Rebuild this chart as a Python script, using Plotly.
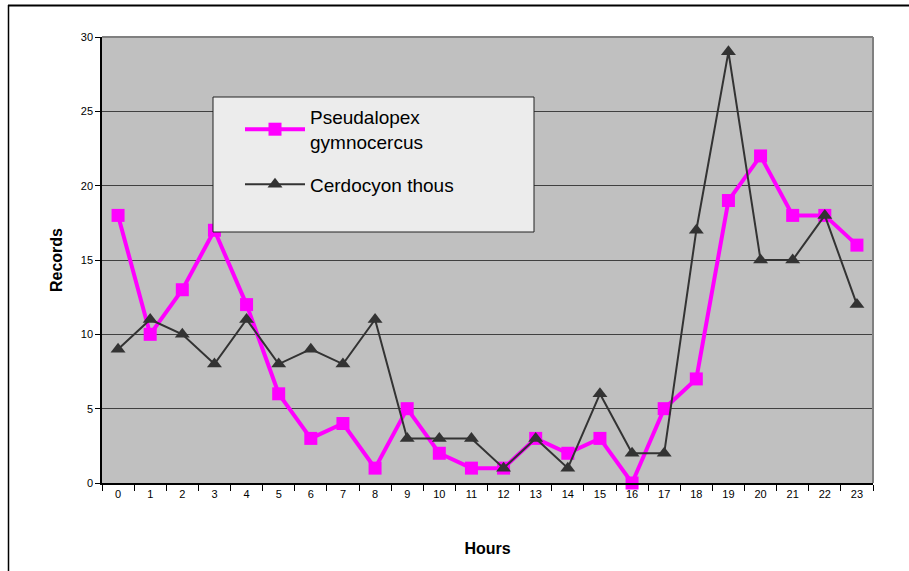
import plotly.graph_objects as go

hours = [str(h) for h in range(24)]
pseudalopex = [18, 10, 13, 17, 12, 6, 3, 4, 1, 5, 2, 1, 1, 3, 2, 3, 0, 5, 7, 19, 22, 18, 18, 16]
cerdocyon = [9, 11, 10, 8, 11, 8, 9, 8, 11, 3, 3, 3, 1, 3, 1, 6, 2, 2, 17, 29, 15, 15, 18, 12]
y_ticks = [0, 5, 10, 15, 20, 25, 30]

W, H = 909, 571
L, R, T, B = 102, 36, 37, 88
pw, ph = W - L - R, H - T - B

def px(x):
    return (x - L) / pw

def py(y):
    return (H - B - y) / ph

fig = go.Figure()
fig.add_trace(go.Scatter(
    x=hours, y=pseudalopex, name="Pseudalopex<br>gymnocercus", mode="lines+markers",
    legendgroup="a",
    line=dict(color="#ff00ff", width=4),
    marker=dict(symbol="square", size=13, color="#ff00ff"),
    cliponaxis=False,
))
fig.add_trace(go.Scatter(
    x=hours, y=cerdocyon, name="Cerdocyon thous", mode="lines+markers",
    legendgroup="b",
    line=dict(color="#333333", width=2),
    marker=dict(symbol="triangle-up", size=13, color="#333333"),
    cliponaxis=False,
))

shapes = [
    # outer frame: top and left edges
    dict(type="line", xref="paper", yref="paper", x0=px(8), x1=px(W), y0=py(5.5), y1=py(5.5),
         line=dict(color="black", width=2), layer="above"),
    dict(type="line", xref="paper", yref="paper", x0=px(8.5), x1=px(8.5), y0=py(5), y1=py(H),
         line=dict(color="black", width=1.5), layer="above"),
    # legend box
    dict(type="rect", xref="paper", yref="paper", x0=px(213), x1=px(534), y0=py(232), y1=py(97),
         line=dict(color="#222222", width=1), fillcolor="#ececec", layer="above"),
    # top & right plot border (gray)
    dict(type="line", xref="paper", yref="paper", x0=0, x1=1, y0=1, y1=1,
         line=dict(color="#808080", width=2)),
    dict(type="line", xref="paper", yref="paper", x0=1, x1=1, y0=0, y1=1,
         line=dict(color="#808080", width=2)),
]

fig.update_layout(
    width=W, height=H,
    margin=dict(l=L, r=R, t=T, b=B),
    paper_bgcolor="white",
    plot_bgcolor="#c0c0c0",
    font=dict(family="Liberation Sans, Arial, sans-serif", size=11, color="black"),
    shapes=shapes,
    showlegend=True,
    legend=dict(
        x=px(240), y=py(98), xanchor="left", yanchor="top",
        bgcolor="rgba(0,0,0,0)", borderwidth=0,
        font=dict(size=19, color="black"),
        itemwidth=60, tracegroupgap=15,
    ),
    xaxis=dict(
        type="category", categoryorder="array", categoryarray=hours,
        tickson="boundaries", ticks="outside", ticklen=6, tickcolor="black",
        showgrid=False, showline=True, linecolor="black", linewidth=1.5,
        range=[-0.5, 23.5], zeroline=False,
        title=dict(text="<b>Hours</b>", font=dict(size=16), standoff=44),
        tickfont=dict(size=11),
    ),
    yaxis=dict(
        range=[0, 30], tickvals=y_ticks, ticks="outside", ticklen=5, tickcolor="black",
        showgrid=True, gridcolor="#404040", gridwidth=1,
        showline=True, linecolor="black", linewidth=1.5, zeroline=False,
        title=dict(text="<b>Records</b>", font=dict(size=16), standoff=14),
        tickfont=dict(size=11),
    ),
)

fig.write_html("out.html", config={"displayModeBar": False},
               post_script="document.body.style.margin='0px';")
